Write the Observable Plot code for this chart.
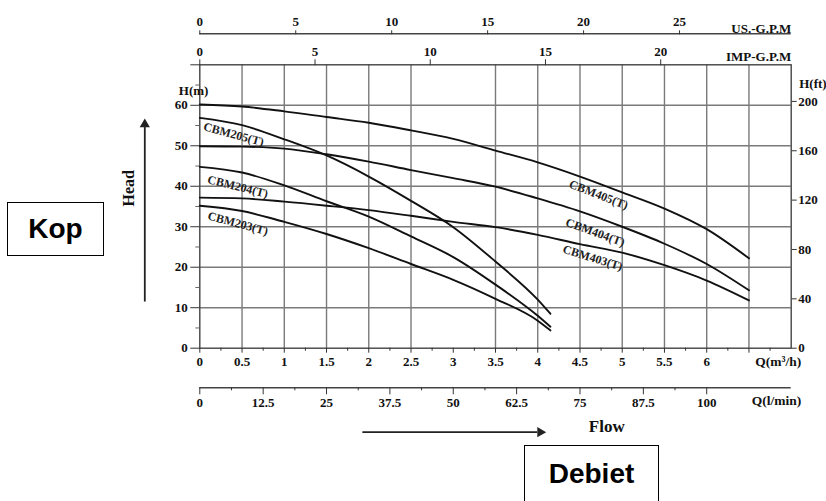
<!DOCTYPE html>
<html><head><meta charset="utf-8">
<script src="https://cdn.jsdelivr.net/npm/d3@7"></script>
<script src="https://cdn.jsdelivr.net/npm/@observablehq/plot@0.6"></script>
<style>
html,body{margin:0;padding:0;background:#fff;}
#wrap{position:relative;width:826px;height:501px;overflow:hidden;}
.box{position:absolute;border:1.5px solid #000;box-sizing:border-box;font-family:"Liberation Sans",Arial,sans-serif;font-weight:bold;font-size:28px;display:flex;align-items:center;justify-content:center;color:#000;}
</style></head><body>
<div id="wrap"></div>
<script>
// ---- data ----
const flowLong  = [0, 0.5, 1, 1.5, 2, 2.5, 3, 3.5, 4, 4.5, 5, 5.5, 6, 6.5];      // m³/h
const flowShort = [0, 0.5, 1, 1.5, 2, 2.5, 3, 3.5, 4, 4.15];                     // m³/h
const headCBM405 = [60.2, 59.7, 58.5, 57.1, 55.7, 53.8, 51.7, 48.8, 45.9, 42.4, 38.5, 34.5, 29.4, 22.2];
const headCBM404 = [49.9, 49.8, 49.3, 47.9, 46.1, 44.0, 42.0, 39.9, 37.0, 33.8, 30.0, 25.8, 20.8, 14.3];
const headCBM403 = [37.2, 37.0, 36.2, 35.2, 34.1, 32.7, 31.2, 29.9, 28.0, 25.7, 23.6, 20.5, 16.7, 11.8];
const headCBM205 = [56.9, 55.1, 51.6, 47.6, 42.4, 36.4, 29.9, 21.4, 12.0, 8.5];
const headCBM204 = [44.8, 43.4, 40.2, 36.3, 32.5, 27.6, 22.5, 15.7, 8.0, 5.3];
const headCBM203 = [35.2, 33.9, 31.2, 28.2, 24.7, 20.8, 16.9, 12.2, 6.8, 4.4];
const seriesNames = ["CBM405(T)", "CBM404(T)", "CBM403(T)", "CBM205(T)", "CBM204(T)", "CBM203(T)"];

// tick values
const qTicks      = [0, 0.5, 1, 1.5, 2, 2.5, 3, 3.5, 4, 4.5, 5, 5.5, 6];
const qTickExtra  = [6.5];
const qMinor      = [0.25, 0.75, 1.25, 1.75, 2.25, 2.75, 3.25, 3.75, 4.25, 4.75, 5.25, 5.75, 6.25, 6.75];
const qGrid       = [0.5, 1, 1.5, 2, 2.5, 3.5, 4, 4.5, 5, 5.5, 6, 6.5];
const lpmTicks    = [0, 12.5, 25, 37.5, 50, 62.5, 75, 87.5, 100];
const lpmMinor    = [6.25, 18.75, 31.25, 43.75, 56.25, 68.75, 81.25, 93.75];
const usTicks     = [0, 5, 10, 15, 20, 25];
const impTicks    = [0, 5, 10, 15, 20];
const hTicks      = [0, 10, 20, 30, 40, 50, 60];
const hTickTop    = [70];
const hMinor      = [5, 15, 25, 35, 45, 55, 65];
const hGrid       = [10, 20, 30, 40, 50, 60];
const ftTicks     = [0, 40, 80, 120, 160, 200];

// unit conversions to m³/h and m
const US = 0.2271247, IMP = 0.2727654, LPM = 0.06, FT = 0.3048;

const curves = [];
const longSets = [headCBM405, headCBM404, headCBM403];
const shortSets = [headCBM205, headCBM204, headCBM203];
longSets.forEach((hs, k) => hs.forEach((h, i) => curves.push({model: seriesNames[k], q: flowLong[i], h})));
shortSets.forEach((hs, k) => hs.forEach((h, i) => curves.push({model: seriesNames[k + 3], q: flowShort[i], h})));

// label layout (annotation placement)
const labelLayout = [
  {text: "CBM405(T)", q: 4.72, h: 37.9, a: 21},
  {text: "CBM404(T)", q: 4.68, h: 28.6, a: 20},
  {text: "CBM403(T)", q: 4.65, h: 22.3, a: 17},
  {text: "CBM205(T)", q: 0.40, h: 52.8, a: 15},
  {text: "CBM204(T)", q: 0.45, h: 39.9, a: 14},
  {text: "CBM203(T)", q: 0.45, h: 30.8, a: 15}
];

const serif = "'Liberation Serif','Times New Roman',serif";
const tf = {fontFamily: serif, fontWeight: "bold", fontSize: 13, fill: "#111"};
const gridC = "#7a7a7a";
const tickC = "#333";

const chart = Plot.plot({
  width: 826, height: 501,
  marginLeft: 199.3, marginRight: 35.3, marginTop: 64.3, marginBottom: 153.3,
  x: {domain: [0, 7], label: null},
  y: {domain: [0, 70], label: null},
  style: {background: "#fff", overflow: "visible"},
  marks: [
    Plot.ruleX(qGrid, {y1: 0, y2: 70, stroke: gridC, strokeWidth: 1.4}),
    Plot.ruleY(hGrid, {x1: 0, x2: 7, stroke: gridC, strokeWidth: 1.4}),
    Plot.frame({stroke: "#444", strokeWidth: 1.4}),
    // left axis (m)
    Plot.axisY(hTicks, {anchor: "left", tickSize: 9, tickPadding: 3, stroke: tickC, label: null, ...tf}),
    Plot.axisY(hTickTop, {anchor: "left", tickSize: 9, stroke: tickC, fill: "none", label: null}),
    Plot.axisY(hMinor, {anchor: "left", tickSize: 4, stroke: "#666", fill: "none", label: null}),
    // right axis (ft)
    Plot.axisY(ftTicks.map(f => f * FT), {anchor: "right", tickSize: 5, tickPadding: 2, stroke: tickC,
      tickFormat: d => String(Math.round(d / FT)), label: null, ...tf}),
    // bottom axis (m³/h)
    Plot.axisX(qTicks, {anchor: "bottom", tickSize: 5, tickPadding: 4, stroke: tickC, tickFormat: d => String(d), label: null, ...tf}),
    Plot.axisX(qTickExtra, {anchor: "bottom", tickSize: 5, stroke: tickC, fill: "none", label: null}),
    Plot.axisX(qMinor, {anchor: "bottom", tickSize: 3, stroke: tickC, fill: "none", label: null}),
    // l/min axis
    Plot.ruleY([0], {x1: 0, x2: 7, dy: 39.6, stroke: "#444", strokeWidth: 1.4}),
    Plot.axisX(lpmTicks.map(v => v * LPM), {anchor: "bottom", dy: 39.6, tickSize: 7, tickPadding: 3, stroke: tickC,
      tickFormat: d => String(Math.round(d / LPM * 10) / 10), label: null, ...tf}),
    Plot.axisX(lpmMinor.map(v => v * LPM), {anchor: "bottom", dy: 39.6, tickSize: 3, stroke: tickC, fill: "none", label: null}),
    // US gpm axis
    Plot.ruleY([70], {x1: 0, x2: 7, dy: -31, stroke: "#444", strokeWidth: 1.4}),
    Plot.axisX(usTicks.map(g => g * US), {anchor: "top", dy: -31, tickSize: 4, tickPadding: 4, stroke: tickC,
      tickFormat: d => String(Math.round(d / US)), label: null, ...tf}),
    // IMP gpm axis
    Plot.axisX(impTicks.map(g => g * IMP), {anchor: "top", tickSize: 6, tickPadding: 3, stroke: tickC,
      tickFormat: d => String(Math.round(d / IMP)), label: null, ...tf}),
    // curves
    Plot.line(curves, {x: "q", y: "h", z: "model", curve: "monotone-x", stroke: "#111", strokeWidth: 1.9}),
    Plot.text(labelLayout, {x: "q", y: "h", text: "text", rotate: "a", ...tf, fontSize: 12, fill: "#222"}),
    // unit labels
    Plot.text(["H(m)"], {frameAnchor: "top-left", dx: -21, dy: 21, text: d => d, ...tf}),
    Plot.text(["H(ft)"], {frameAnchor: "top-right", dx: 8, dy: 13.5, textAnchor: "start", text: d => d, ...tf}),
    Plot.text(["US.-G.P.M"], {frameAnchor: "top-right", dx: 0, dy: -41.5, textAnchor: "end", text: d => d, ...tf}),
    Plot.text(["IMP-G.P.M"], {frameAnchor: "top-right", dx: 0, dy: -12.6, textAnchor: "end", text: d => d, ...tf}),
    Plot.text(["Q(m³/h)"], {frameAnchor: "bottom-right", dx: 10, dy: 17.5, textAnchor: "end", text: d => d, ...tf, fontSize: 13.5}),
    Plot.text(["Q(l/min)"], {frameAnchor: "bottom-right", dx: 10, dy: 56.5, textAnchor: "end", text: d => d, ...tf, fontSize: 13.5}),
    // Head annotation
    Plot.text(["Head"], {frameAnchor: "left", dx: -71, rotate: -90, text: d => d, ...tf, fontSize: 16}),
    Plot.ruleX([0], {y1: 11.4, y2: 54.5, dx: -55, stroke: "#222", strokeWidth: 1.8}),
    Plot.dot([0], {x: 0, y: 55.3, dx: -55, symbol: "triangle", r: 3.8, fill: "#222", stroke: null}),
    // Flow annotation
    Plot.ruleY([0], {x1: 1.93, x2: 4.0, dy: 84, stroke: "#222", strokeWidth: 1.8}),
    Plot.dot([0], {x: 4.03, y: 0, dy: 84, symbol: "triangle", rotate: 90, r: 3.8, fill: "#222", stroke: null}),
    Plot.text(["Flow"], {frameAnchor: "bottom-left", dx: 389, dy: 84, text: d => d, ...tf, fontSize: 17})
  ]
});

const wrap = document.getElementById("wrap");
wrap.appendChild(chart);
const kop = document.createElement("div");
kop.className = "box"; kop.textContent = "Kop";
Object.assign(kop.style, {left: "7px", top: "202px", width: "97px", height: "54px"});
const deb = document.createElement("div");
deb.className = "box"; deb.textContent = "Debiet";
Object.assign(deb.style, {left: "524px", top: "445px", width: "135px", height: "58px"});
wrap.appendChild(kop); wrap.appendChild(deb);
</script>
</body></html>
